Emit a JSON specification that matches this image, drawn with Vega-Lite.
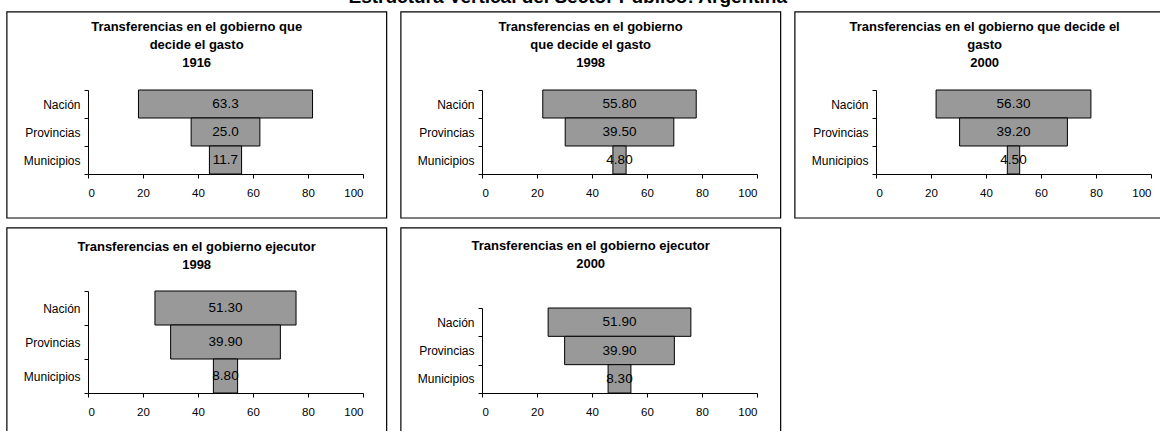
{
  "$schema": "https://vega.github.io/schema/vega-lite/v6.json",
  "background": "white",
  "padding": {"left": 6, "top": -12, "right": -11, "bottom": -7},
  "title": {"text": "Estructura Vertical del Sector Público: Argentina", "fontSize": 19, "fontWeight": "bold", "font": "Liberation Sans", "color": "#000", "offset": 4, "dx": -23, "anchor": "middle"},
  "config": {
    "font": "Liberation Sans",
    "view": {"stroke": null},
    "axis": {"domainColor": "#000", "tickColor": "#000", "labelColor": "#000", "labelFont": "Liberation Sans", "grid": false, "title": null, "domainWidth": 1, "tickWidth": 1}
  },
  "columns": 3,
  "spacing": {"row": 8, "column": 12},
  "concat": [
    {
      "width": 275, "height": 84,
      "layer": [
        {
          "data": {"values": [{}]},
          "mark": {"type": "rect", "fill": null, "stroke": "#000", "strokeWidth": 1.2},
          "encoding": {
            "x": {"datum": -29.5, "type": "quantitative", "scale": {"domain": [0, 100]}},
            "x2": {"datum": 108.6},
            "y": {"datum": -0.524, "type": "quantitative", "scale": {"domain": [0, 1]}, "axis": null},
            "y2": {"datum": 1.929}
          }
        },
        {
          "data": {"values": [{}]},
          "mark": {"type": "text", "text": ["Transferencias en el gobierno que", "decide el gasto", "1916"], "baseline": "top", "align": "center", "fontWeight": "bold", "fontSize": 13, "lineHeight": 18, "color": "#000"},
          "encoding": {
            "x": {"datum": 39.5, "type": "quantitative", "scale": {"domain": [0, 100]}},
            "y": {"datum": 1.824, "type": "quantitative", "scale": {"domain": [0, 1]}, "axis": null}
          }
        },
        {
          "data": {"values": [{"nivel": "Nación", "valor": 63.3}, {"nivel": "Provincias", "valor": 25.0}, {"nivel": "Municipios", "valor": 11.7}]},
          "transform": [{"calculate": "50 - datum.valor / 2", "as": "ini"}, {"calculate": "50 + datum.valor / 2", "as": "fin"}],
          "encoding": {
            "y": {"field": "nivel", "type": "nominal", "sort": ["Nación", "Provincias", "Municipios"], "scale": {"paddingInner": 0, "paddingOuter": 0}, "axis": {"tickBand": "extent", "tickSize": 4, "labelPadding": 4, "labelFontSize": 12}}
          },
          "layer": [
            {
              "mark": {"type": "bar", "fill": "#999999", "stroke": "#000", "strokeWidth": 1},
              "encoding": {
                "x": {"field": "ini", "type": "quantitative", "scale": {"domain": [0, 100]}, "axis": {"values": [0, 20, 40, 60, 80, 100], "tickSize": 4, "labelPadding": 9, "labelFontSize": 11.5, "title": null}},
                "x2": {"field": "fin"}
              }
            },
            {
              "mark": {"type": "text", "fontSize": 13.5, "color": "#000"},
              "encoding": {
                "x": {"datum": 50, "type": "quantitative", "scale": {"domain": [0, 100]}},
                "text": {"field": "valor", "type": "quantitative", "format": ".1f"}
              }
            }
          ]
        }
      ],
      "resolve": {"scale": {"y": "independent"}, "axis": {"y": "independent"}}
    },
    {
      "width": 275, "height": 84,
      "layer": [
        {
          "data": {"values": [{}]},
          "mark": {"type": "rect", "fill": null, "stroke": "#000", "strokeWidth": 1.2},
          "encoding": {
            "x": {"datum": -29.5, "type": "quantitative", "scale": {"domain": [0, 100]}},
            "x2": {"datum": 108.6},
            "y": {"datum": -0.524, "type": "quantitative", "scale": {"domain": [0, 1]}, "axis": null},
            "y2": {"datum": 1.929}
          }
        },
        {
          "data": {"values": [{}]},
          "mark": {"type": "text", "text": ["Transferencias en el gobierno", "que decide el gasto", "1998"], "baseline": "top", "align": "center", "fontWeight": "bold", "fontSize": 13, "lineHeight": 18, "color": "#000"},
          "encoding": {
            "x": {"datum": 39.5, "type": "quantitative", "scale": {"domain": [0, 100]}},
            "y": {"datum": 1.824, "type": "quantitative", "scale": {"domain": [0, 1]}, "axis": null}
          }
        },
        {
          "data": {"values": [{"nivel": "Nación", "valor": 55.8}, {"nivel": "Provincias", "valor": 39.5}, {"nivel": "Municipios", "valor": 4.8}]},
          "transform": [{"calculate": "50 - datum.valor / 2", "as": "ini"}, {"calculate": "50 + datum.valor / 2", "as": "fin"}],
          "encoding": {
            "y": {"field": "nivel", "type": "nominal", "sort": ["Nación", "Provincias", "Municipios"], "scale": {"paddingInner": 0, "paddingOuter": 0}, "axis": {"tickBand": "extent", "tickSize": 4, "labelPadding": 4, "labelFontSize": 12}}
          },
          "layer": [
            {
              "mark": {"type": "bar", "fill": "#999999", "stroke": "#000", "strokeWidth": 1},
              "encoding": {
                "x": {"field": "ini", "type": "quantitative", "scale": {"domain": [0, 100]}, "axis": {"values": [0, 20, 40, 60, 80, 100], "tickSize": 4, "labelPadding": 9, "labelFontSize": 11.5, "title": null}},
                "x2": {"field": "fin"}
              }
            },
            {
              "mark": {"type": "text", "fontSize": 13.5, "color": "#000"},
              "encoding": {
                "x": {"datum": 50, "type": "quantitative", "scale": {"domain": [0, 100]}},
                "text": {"field": "valor", "type": "quantitative", "format": ".2f"}
              }
            }
          ]
        }
      ],
      "resolve": {"scale": {"y": "independent"}, "axis": {"y": "independent"}}
    },
    {
      "width": 275, "height": 84,
      "layer": [
        {
          "data": {"values": [{}]},
          "mark": {"type": "rect", "fill": null, "stroke": "#000", "strokeWidth": 1.2},
          "encoding": {
            "x": {"datum": -29.5, "type": "quantitative", "scale": {"domain": [0, 100]}},
            "x2": {"datum": 108.6},
            "y": {"datum": -0.524, "type": "quantitative", "scale": {"domain": [0, 1]}, "axis": null},
            "y2": {"datum": 1.929}
          }
        },
        {
          "data": {"values": [{}]},
          "mark": {"type": "text", "text": ["Transferencias en el gobierno que decide el", "gasto", "2000"], "baseline": "top", "align": "center", "fontWeight": "bold", "fontSize": 13, "lineHeight": 18, "color": "#000"},
          "encoding": {
            "x": {"datum": 39.5, "type": "quantitative", "scale": {"domain": [0, 100]}},
            "y": {"datum": 1.824, "type": "quantitative", "scale": {"domain": [0, 1]}, "axis": null}
          }
        },
        {
          "data": {"values": [{"nivel": "Nación", "valor": 56.3}, {"nivel": "Provincias", "valor": 39.2}, {"nivel": "Municipios", "valor": 4.5}]},
          "transform": [{"calculate": "50 - datum.valor / 2", "as": "ini"}, {"calculate": "50 + datum.valor / 2", "as": "fin"}],
          "encoding": {
            "y": {"field": "nivel", "type": "nominal", "sort": ["Nación", "Provincias", "Municipios"], "scale": {"paddingInner": 0, "paddingOuter": 0}, "axis": {"tickBand": "extent", "tickSize": 4, "labelPadding": 4, "labelFontSize": 12}}
          },
          "layer": [
            {
              "mark": {"type": "bar", "fill": "#999999", "stroke": "#000", "strokeWidth": 1},
              "encoding": {
                "x": {"field": "ini", "type": "quantitative", "scale": {"domain": [0, 100]}, "axis": {"values": [0, 20, 40, 60, 80, 100], "tickSize": 4, "labelPadding": 9, "labelFontSize": 11.5, "title": null}},
                "x2": {"field": "fin"}
              }
            },
            {
              "mark": {"type": "text", "fontSize": 13.5, "color": "#000"},
              "encoding": {
                "x": {"datum": 50, "type": "quantitative", "scale": {"domain": [0, 100]}},
                "text": {"field": "valor", "type": "quantitative", "format": ".2f"}
              }
            }
          ]
        }
      ],
      "resolve": {"scale": {"y": "independent"}, "axis": {"y": "independent"}}
    },
    {
      "width": 275, "height": 102,
      "layer": [
        {
          "data": {"values": [{}]},
          "mark": {"type": "rect", "fill": null, "stroke": "#000", "strokeWidth": 1.2},
          "encoding": {
            "x": {"datum": -29.5, "type": "quantitative", "scale": {"domain": [0, 100]}},
            "x2": {"datum": 108.6},
            "y": {"datum": -0.431, "type": "quantitative", "scale": {"domain": [0, 1]}, "axis": null},
            "y2": {"datum": 1.618}
          }
        },
        {
          "data": {"values": [{}]},
          "mark": {"type": "text", "text": ["Transferencias en el gobierno ejecutor", "1998"], "baseline": "top", "align": "center", "fontWeight": "bold", "fontSize": 13, "lineHeight": 18, "color": "#000"},
          "encoding": {
            "x": {"datum": 39.5, "type": "quantitative", "scale": {"domain": [0, 100]}},
            "y": {"datum": 1.49, "type": "quantitative", "scale": {"domain": [0, 1]}, "axis": null}
          }
        },
        {
          "data": {"values": [{"nivel": "Nación", "valor": 51.3}, {"nivel": "Provincias", "valor": 39.9}, {"nivel": "Municipios", "valor": 8.8}]},
          "transform": [{"calculate": "50 - datum.valor / 2", "as": "ini"}, {"calculate": "50 + datum.valor / 2", "as": "fin"}],
          "encoding": {
            "y": {"field": "nivel", "type": "nominal", "sort": ["Nación", "Provincias", "Municipios"], "scale": {"paddingInner": 0, "paddingOuter": 0}, "axis": {"tickBand": "extent", "tickSize": 4, "labelPadding": 4, "labelFontSize": 12}}
          },
          "layer": [
            {
              "mark": {"type": "bar", "fill": "#999999", "stroke": "#000", "strokeWidth": 1},
              "encoding": {
                "x": {"field": "ini", "type": "quantitative", "scale": {"domain": [0, 100]}, "axis": {"values": [0, 20, 40, 60, 80, 100], "tickSize": 4, "labelPadding": 9, "labelFontSize": 11.5, "title": null}},
                "x2": {"field": "fin"}
              }
            },
            {
              "mark": {"type": "text", "fontSize": 13.5, "color": "#000"},
              "encoding": {
                "x": {"datum": 50, "type": "quantitative", "scale": {"domain": [0, 100]}},
                "text": {"field": "valor", "type": "quantitative", "format": ".2f"}
              }
            }
          ]
        }
      ],
      "resolve": {"scale": {"y": "independent"}, "axis": {"y": "independent"}}
    },
    {
      "width": 275, "height": 102,
      "layer": [
        {
          "data": {"values": [{}]},
          "mark": {"type": "rect", "fill": null, "stroke": "#000", "strokeWidth": 1.2},
          "encoding": {
            "x": {"datum": -29.5, "type": "quantitative", "scale": {"domain": [0, 100]}},
            "x2": {"datum": 108.6},
            "y": {"datum": -0.431, "type": "quantitative", "scale": {"domain": [0, 1]}, "axis": null},
            "y2": {"datum": 1.618}
          }
        },
        {
          "data": {"values": [{}]},
          "mark": {"type": "text", "text": ["Transferencias en el gobierno ejecutor", "2000"], "baseline": "top", "align": "center", "fontWeight": "bold", "fontSize": 13, "lineHeight": 18, "color": "#000"},
          "encoding": {
            "x": {"datum": 39.5, "type": "quantitative", "scale": {"domain": [0, 100]}},
            "y": {"datum": 1.496, "type": "quantitative", "scale": {"domain": [0, 1]}, "axis": null}
          }
        },
        {
          "data": {"values": [{"nivel": "Nación", "valor": 51.9}, {"nivel": "Provincias", "valor": 39.9}, {"nivel": "Municipios", "valor": 8.3}]},
          "transform": [{"calculate": "50 - datum.valor / 2", "as": "ini"}, {"calculate": "50 + datum.valor / 2", "as": "fin"}],
          "encoding": {
            "y": {"field": "nivel", "type": "nominal", "sort": ["Nación", "Provincias", "Municipios"], "scale": {"paddingInner": 0, "paddingOuter": 0, "range": [17, 102]}, "axis": {"tickBand": "extent", "tickSize": 4, "labelPadding": 4, "labelFontSize": 12}}
          },
          "layer": [
            {
              "mark": {"type": "bar", "fill": "#999999", "stroke": "#000", "strokeWidth": 1},
              "encoding": {
                "x": {"field": "ini", "type": "quantitative", "scale": {"domain": [0, 100]}, "axis": {"values": [0, 20, 40, 60, 80, 100], "tickSize": 4, "labelPadding": 9, "labelFontSize": 11.5, "title": null}},
                "x2": {"field": "fin"}
              }
            },
            {
              "mark": {"type": "text", "fontSize": 13.5, "color": "#000"},
              "encoding": {
                "x": {"datum": 50, "type": "quantitative", "scale": {"domain": [0, 100]}},
                "text": {"field": "valor", "type": "quantitative", "format": ".2f"}
              }
            }
          ]
        }
      ],
      "resolve": {"scale": {"y": "independent"}, "axis": {"y": "independent"}}
    }
  ]
}
